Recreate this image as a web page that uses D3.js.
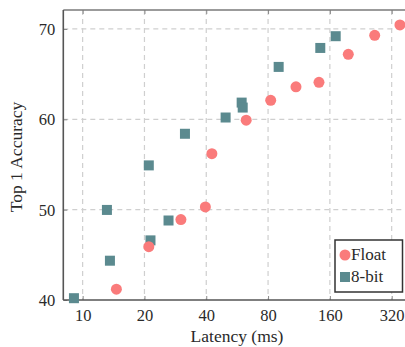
<!DOCTYPE html>
<html>
<head>
<meta charset="utf-8">
<script src="https://cdn.jsdelivr.net/npm/d3@7"></script>
<style>
  body { margin: 0; background: #fff; }
  svg { display: block; font-family: "Liberation Serif", "DejaVu Serif", serif; }
</style>
</head>
<body>
<svg id="chart" width="405" height="347"></svg>
<script>
// data
var floatLat = [14.6, 21.0, 30.1, 39.6, 42.6, 62.6, 82.4, 109.4, 141.6, 196.7, 264.5, 351];
var floatAcc = [41.2, 45.9, 48.9, 50.3, 56.2, 59.9, 62.1, 63.6, 64.1, 67.2, 69.3, 70.45];
var int8Lat = [9.07, 13.13, 13.58, 21.0, 21.4, 26.2, 31.5, 49.7, 59.5, 60.2, 90.1, 143.7, 170.8];
var int8Acc = [40.2, 49.97, 44.35, 54.9, 46.6, 48.8, 58.4, 60.2, 61.85, 61.3, 65.8, 67.9, 69.2];
var xTicks = [10, 20, 40, 80, 160, 320];
var yTicks = [40, 50, 60, 70];
var seriesNames = ["Float", "8-bit"];

var floatCol = "#fa7b7b";
var int8Col = "#5b8a8f";

var svg = d3.select("#chart");
// plot box (window.top is taken, so p-prefixed names)
var pLeft = 63.3, pTop = 10, pBottom = 300, pRight = 407;

var x = d3.scaleLog().domain([8.05, 380]).range([pLeft, pRight]);
var y = d3.scaleLinear().domain([40, 72.1]).range([pBottom, pTop]);

// grid
var grid = svg.append("g").attr("stroke", "#cfcfcf").attr("stroke-width", 1.2).attr("stroke-dasharray", "5,4");
grid.selectAll(".vx").data(xTicks).enter().append("line")
  .attr("x1", d => x(d)).attr("x2", d => x(d)).attr("y1", pTop).attr("y2", pBottom);
grid.selectAll(".hy").data(yTicks.slice(1)).enter().append("line")
  .attr("x1", pLeft).attr("x2", pRight).attr("y1", d => y(d)).attr("y2", d => y(d));

// axes (ticks inward, no domain path; frame drawn after)
var xAxis = svg.append("g").attr("transform", "translate(0," + pBottom + ")")
  .call(d3.axisBottom(x).tickValues(xTicks).tickFormat(d3.format("d")).tickSizeInner(-4).tickSizeOuter(0).tickPadding(8));
var xTop = svg.append("g").attr("transform", "translate(0," + pTop + ")")
  .call(d3.axisTop(x).tickValues(xTicks).tickFormat("").tickSizeInner(-4).tickSizeOuter(0));
var yAxis = svg.append("g").attr("transform", "translate(" + pLeft + ",0)")
  .call(d3.axisLeft(y).tickValues(yTicks).tickSizeInner(-4).tickSizeOuter(0).tickPadding(8));

[xAxis, xTop, yAxis].forEach(function (g) {
  g.attr("font-family", null).attr("font-size", null);
  g.select(".domain").remove();
  g.selectAll(".tick line").attr("stroke", "#888").attr("stroke-width", 1);
  g.selectAll("text").attr("font-size", 16.5).attr("fill", "#2a2a2a");
});
xAxis.selectAll("text").attr("dy", "0.8em");
yAxis.selectAll("text").attr("dy", "0.34em");

// frame
svg.append("line").attr("x1", pLeft).attr("x2", pRight).attr("y1", pTop).attr("y2", pTop)
  .attr("stroke", "#7a7a7a").attr("stroke-width", 1.6);
svg.append("line").attr("x1", pLeft).attr("x2", pRight).attr("y1", pBottom).attr("y2", pBottom)
  .attr("stroke", "#555").attr("stroke-width", 1.6);
svg.append("line").attr("x1", pLeft).attr("x2", pLeft).attr("y1", pTop).attr("y2", pBottom)
  .attr("stroke", "#555").attr("stroke-width", 1.6);

// points
var floatPts = floatLat.map((v, i) => [v, floatAcc[i]]);
var int8Pts = int8Lat.map((v, i) => [v, int8Acc[i]]);

svg.append("g").selectAll("rect").data(int8Pts).enter().append("rect")
  .attr("x", d => x(d[0]) - 5).attr("y", d => y(d[1]) - 5)
  .attr("width", 10).attr("height", 10).attr("fill", int8Col);

svg.append("g").selectAll("circle").data(floatPts).enter().append("circle")
  .attr("cx", d => x(d[0])).attr("cy", d => y(d[1])).attr("r", 5.5).attr("fill", floatCol);

// labels
svg.append("text").attr("x", 237).attr("y", 342).attr("text-anchor", "middle")
  .attr("font-size", 17.5).attr("fill", "#2a2a2a").text("Latency (ms)");
svg.append("text").attr("transform", "translate(22,157) rotate(-90)").attr("text-anchor", "middle")
  .attr("font-size", 17.5).attr("fill", "#2a2a2a").text("Top 1 Accuracy");

// legend
var lg = svg.append("g");
lg.append("rect").attr("x", 335).attr("y", 240).attr("width", 67.5).attr("height", 52)
  .attr("fill", "#fff").attr("stroke", "#333").attr("stroke-width", 1.5);
lg.append("circle").attr("cx", 345).attr("cy", 255).attr("r", 5.5).attr("fill", floatCol);
lg.append("rect").attr("x", 340).attr("y", 272).attr("width", 10).attr("height", 10).attr("fill", int8Col);
lg.selectAll("text").data(seriesNames).enter().append("text")
  .attr("x", 351).attr("y", (d, i) => 260 + i * 22)
  .attr("font-size", 17).attr("fill", "#2a2a2a").text(d => d);
</script>
</body>
</html>
